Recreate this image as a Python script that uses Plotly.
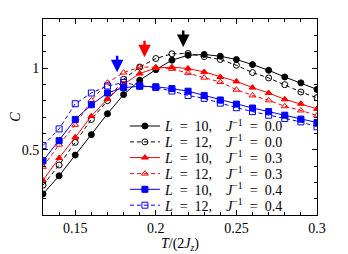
import plotly.graph_objects as go

T = [0.13, 0.14, 0.15, 0.16, 0.17, 0.18, 0.19, 0.20, 0.21, 0.22,
     0.23, 0.24, 0.25, 0.26, 0.27, 0.28, 0.29, 0.30]

C_L10_J00 = [0.229, 0.340, 0.467, 0.592, 0.720, 0.837, 0.925, 0.990, 1.048, 1.078,
             1.083, 1.072, 1.052, 1.021, 0.986, 0.945, 0.909, 0.869]
C_L12_J00 = [0.283, 0.406, 0.545, 0.685, 0.800, 0.931, 1.006, 1.058, 1.087, 1.089,
             1.070, 1.052, 1.017, 0.972, 0.939, 0.898, 0.853, 0.818]
C_L10_J03 = [0.312, 0.449, 0.576, 0.705, 0.812, 0.900, 0.966, 1.000, 1.005, 0.997,
             0.976, 0.945, 0.918, 0.880, 0.847, 0.808, 0.781, 0.750]
C_L12_J03 = [0.395, 0.531, 0.652, 0.802, 0.910, 0.972, 1.006, 1.005, 0.995, 0.970,
             0.941, 0.914, 0.867, 0.832, 0.802, 0.766, 0.740, 0.709]
C_L10_J04 = [0.432, 0.555, 0.685, 0.775, 0.847, 0.880, 0.888, 0.885, 0.874, 0.858,
             0.832, 0.804, 0.779, 0.755, 0.733, 0.711, 0.687, 0.666]
C_L12_J04 = [0.525, 0.627, 0.781, 0.847, 0.890, 0.911, 0.892, 0.880, 0.859, 0.832,
             0.814, 0.785, 0.757, 0.733, 0.711, 0.691, 0.670, 0.640]

L_values = ["10", "12", "10", "12", "10", "12"]
Jinv_values = ["0.0", "0.0", "0.3", "0.3", "0.4", "0.4"]
EN = "\u2002"
labels = [f"<i>L</i>{EN}={EN}{l},\u2003<i>J</i><sup>−1</sup>{EN}={EN}{j}"
          for l, j in zip(L_values, Jinv_values)]

# arrow tips (T, C)
arrow_T = [0.176, 0.193, 0.217]
arrow_C = [0.974, 1.066, 1.128]
arrow_colors = ["#0000ff", "#ff0000", "#000000"]

DASH = "4px,3px"
series = [
    (C_L10_J00, "#000000", "solid", "circle"),
    (C_L12_J00, "#000000", DASH, "circle-open"),
    (C_L10_J03, "#ff0000", "solid", "triangle-up"),
    (C_L12_J03, "#ff0000", DASH, "triangle-up-open"),
    (C_L10_J04, "#0000ff", "solid", "square"),
    (C_L12_J04, "#0000ff", DASH, "square-open"),
]

font = "Liberation Serif"
legend_names = ["legend", "legend2", "legend3", "legend4", "legend5", "legend6"]
legend_rows = [0.452, 0.371, 0.291, 0.209, 0.129, 0.048]

fig = go.Figure()
for (vals, col, dash, sym), lab, lg in zip(series, labels, legend_names):
    fig.add_trace(go.Scatter(
        x=T, y=vals, mode="lines+markers", name=lab, legend=lg,
        line=dict(color=col, width=1, dash=dash),
        marker=dict(symbol=sym, size=6, color=col, line=dict(color=col, width=1)),
    ))

for x, y, c in zip(arrow_T, arrow_C, arrow_colors):
    fig.add_annotation(x=x, y=y, ax=0, ay=-18, text="", showarrow=True,
                       arrowhead=2, arrowsize=1, arrowwidth=2.5, arrowcolor=c)

legend_layout = {}
for lg, yr in zip(legend_names, legend_rows):
    legend_layout[lg] = dict(x=0.299, y=yr, xanchor="left", yanchor="middle",
                             bgcolor="rgba(0,0,0,0)", font=dict(size=14, family=font),
                             itemwidth=30, borderwidth=0)

# page body keeps its default 8px margin, so the figure is 8px smaller
fig.update_layout(
    width=340, height=246,
    margin=dict(l=35, r=31, t=11, b=39),
    paper_bgcolor="white", plot_bgcolor="white",
    font=dict(family=font, size=14, color="black"),
    showlegend=True,
    **legend_layout,
)
fig.update_xaxes(
    range=[0.13, 0.3], dtick=0.05, tick0=0.15, showgrid=False, zeroline=False,
    automargin=False,
    showline=True, linecolor="black", linewidth=1, mirror="allticks",
    ticks="inside", ticklen=5, tickcolor="black",
    minor=dict(dtick=0.01, ticks="inside", ticklen=3, tickcolor="black"),
    title=dict(text="<i>T</i>/(2<i>J</i><sub><i>z</i></sub>)", font=dict(size=14), standoff=3),
    tickfont=dict(size=14),
)
fig.update_yaxes(
    range=[0.1, 1.3], dtick=0.5, tick0=0, showgrid=False, zeroline=False,
    automargin=False,
    showline=True, linecolor="black", linewidth=1, mirror="allticks",
    ticks="inside", ticklen=5, tickcolor="black",
    minor=dict(dtick=0.1, ticks="inside", ticklen=3, tickcolor="black"),
    title=dict(text="<i>C</i>", font=dict(size=14)),
    tickfont=dict(size=14),
)
fig.write_html("out.html")
